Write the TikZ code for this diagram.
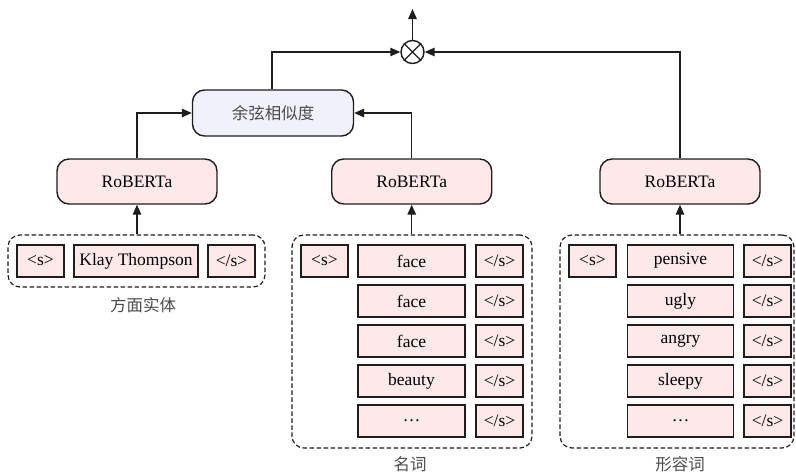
\documentclass[tikz,border=0pt]{standalone}
\usepackage{fontspec}
\setmainfont{Liberation Serif}
\newfontfamily\cjk{Noto Sans CJK SC}
\usetikzlibrary{arrows.meta}
\definecolor{tokfill}{RGB}{253,233,233}
\definecolor{cosfill}{RGB}{241,241,252}
\definecolor{edge}{RGB}{30,30,30}
\tikzset{
  tok/.style={draw=edge, fill=tokfill, line width=1.5pt, minimum height=32pt,
    inner sep=0pt, font=\fontsize{17.5}{19}\selectfont},
  sbox/.style={tok, minimum width=47pt},
  wbox/.style={tok, minimum width=107pt},
  robbox/.style={draw=edge, fill=tokfill, line width=1.4pt, rounded corners=12pt,
    minimum width=160pt, minimum height=45pt, inner sep=0pt,
    font=\fontsize{17.5}{19}\selectfont},
  cosbox/.style={robbox, fill=cosfill},
  grp/.style={draw=edge, dashed, dash pattern=on 4.5pt off 2.5pt, line width=1.2pt,
    rounded corners=12pt, inner sep=0pt},
  lbl/.style={font=\cjk\fontsize{16.5}{18}\selectfont, text=black!70},
  arr/.style={draw=edge, line width=1.4pt, -{Triangle[length=10pt,width=8.5pt]}},
  ln/.style={draw=edge, line width=1.4pt}
}
\begin{document}
\begin{tikzpicture}[x=1pt,y=-1pt]
\useasboundingbox (0,0) rectangle (796,474);

% dashed input groups
\node[grp, minimum width=257pt, minimum height=52pt] (g1) at (136.5,261) {};
\node[grp, minimum width=240pt, minimum height=213pt] (g2) at (412,341.5) {};
\node[grp, minimum width=234pt, minimum height=213pt] (g3) at (677,341.5) {};

% aspect entity tokens
\node[sbox] (a1) at (40.5,261) {<s>};
\node[tok, minimum width=124pt] (a2) at (136,261) {Klay Thompson};
\node[sbox] (a3) at (231.5,261) {</s>};

% noun tokens
\node[sbox] (n0) at (324.5,261) {<s>};
\foreach \i/\w/\y in {1/face/261, 2/face/301, 3/face/341, 4/beauty/381, 5/\ldots/421} {
  \node[wbox] (nw\i) at (411.5,\y) {\w};
  \node[sbox] (ne\i) at (499.5,\y) {</s>};
}

% adjective tokens
\node[sbox] (j0) at (592.5,261) {<s>};
\foreach \i/\w/\y in {1/pensive/261, 2/ugly/301, 3/angry/341, 4/sleepy/381, 5/\ldots/421} {
  \node[wbox, minimum width=106pt] (jw\i) at (680.5,\y) {\w};
  \node[sbox] (je\i) at (767.5,\y) {</s>};
}

% group labels
\node[lbl] (l1) at (143,305) {方面实体};
\node[lbl] (l2) at (410,464) {名词};
\node[lbl] (l3) at (680,464) {形容词};

% encoders
\node[robbox] (r1) at (137,181.5) {RoBERTa};
\node[robbox] (r2) at (411.7,181.5) {RoBERTa};
\node[robbox] (r3) at (680,181.5) {RoBERTa};

% similarity and product
\node[cosbox, minimum width=161pt, minimum height=46pt, font=\cjk\fontsize{16.5}{18}\selectfont, text=black!70] (cs) at (273,113) {余弦相似度};
\node[draw=edge, circle, line width=1.4pt, minimum size=23pt, inner sep=0pt] (ot) at (412.5,52) {};
\draw[ln] (ot.north east) -- (ot.south west) (ot.north west) -- (ot.south east);
\coordinate (out) at (412.5,9);

% connectors
\draw[arr] (g1.north -| r1.south) -- (r1.south);
\draw[arr] (g2.north -| r2.south) -- (r2.south);
\draw[arr] (g3.north -| r3.south) -- (r3.south);
\draw[arr] (r1.north) |- (cs.west);
\draw[arr] (r2.north) |- (cs.east);
\draw[arr] ([xshift=-1pt]cs.north) |- (ot.west);
\draw[arr] (r3.north) |- (ot.east);
\draw[arr] (ot.north) -- (out);
\end{tikzpicture}
\end{document}
